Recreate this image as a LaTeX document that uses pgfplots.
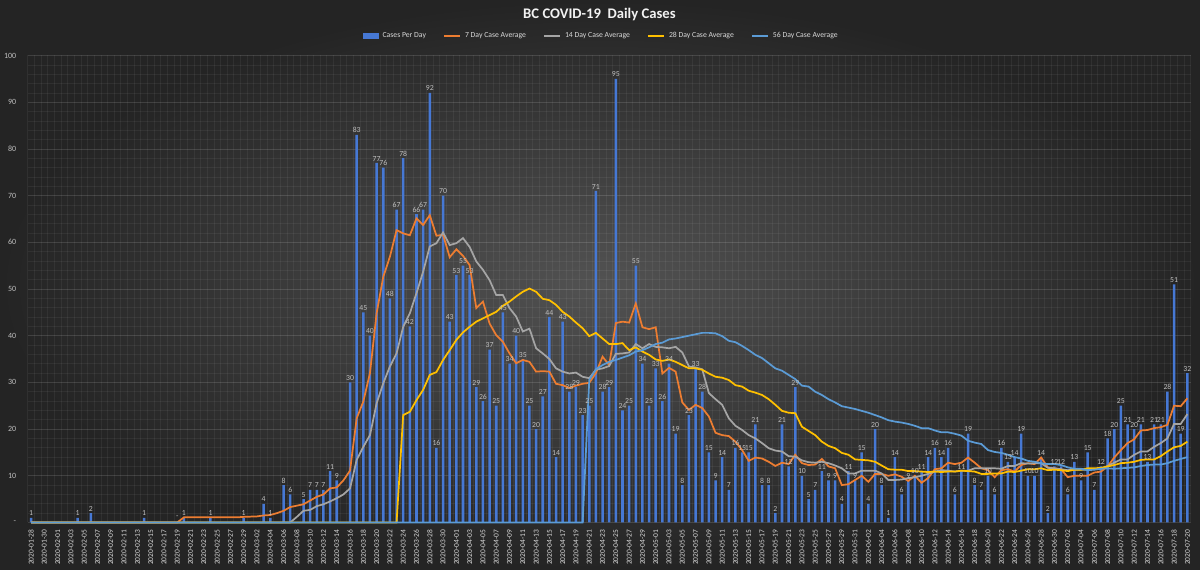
\documentclass[border=0pt]{standalone}
\usepackage{fontspec}
\setmainfont{Carlito}
\usepackage{pgfplots}
\pgfplotsset{compat=1.18}

\definecolor{bginner}{RGB}{82,82,82}
\definecolor{bgouter}{RGB}{36,36,36}
\definecolor{barblue}{RGB}{70,120,212}
\definecolor{avg7}{RGB}{237,125,49}
\definecolor{avg14}{RGB}{165,165,165}
\definecolor{avg28}{RGB}{255,192,0}
\definecolor{avg56}{RGB}{91,155,213}
\definecolor{labelgray}{RGB}{191,191,191}
\definecolor{textgray}{RGB}{217,217,217}

\begin{document}
\begin{tikzpicture}
\path[use as bounding box] (0,0) rectangle (900pt,426.75pt);
\shade[inner color=bginner, outer color=bgouter] (0,0) rectangle (900pt,426.75pt);

\begin{axis}[
    at={(20.8pt,34.9pt)}, anchor=south west,
    width=872.2pt, height=350.25pt, scale only axis,
    xmin=-0.5, xmax=174.5, ymin=0, ymax=100,
    clip=false,
    axis lines=left, axis line style={draw=none},
    tick style={draw=none},
    /pgf/number format/assume math mode=true,
    ytick={0,10,...,100},
    yticklabels={-,10,20,30,40,50,60,70,80,90,100},
    minor y tick num=4,
    yticklabel style={font=\fontsize{6}{7}\selectfont, text=labelgray, xshift=-3pt},
    xtick={0,2,...,174},
    minor xtick={-0.5,0.5,...,174.5},
    xticklabels={2020-01-28,2020-01-30,
      2020-02-01,2020-02-03,2020-02-05,2020-02-07,2020-02-09,2020-02-11,2020-02-13,2020-02-15,2020-02-17,2020-02-19,2020-02-21,2020-02-23,2020-02-25,2020-02-27,2020-02-29,
      2020-03-02,2020-03-04,2020-03-06,2020-03-08,2020-03-10,2020-03-12,2020-03-14,2020-03-16,2020-03-18,2020-03-20,2020-03-22,2020-03-24,2020-03-26,2020-03-28,2020-03-30,
      2020-04-01,2020-04-03,2020-04-05,2020-04-07,2020-04-09,2020-04-11,2020-04-13,2020-04-15,2020-04-17,2020-04-19,2020-04-21,2020-04-23,2020-04-25,2020-04-27,2020-04-29,
      2020-05-01,2020-05-03,2020-05-05,2020-05-07,2020-05-09,2020-05-11,2020-05-13,2020-05-15,2020-05-17,2020-05-19,2020-05-21,2020-05-23,2020-05-25,2020-05-27,2020-05-29,2020-05-31,
      2020-06-02,2020-06-04,2020-06-06,2020-06-08,2020-06-10,2020-06-12,2020-06-14,2020-06-16,2020-06-18,2020-06-20,2020-06-22,2020-06-24,2020-06-26,2020-06-28,2020-06-30,
      2020-07-02,2020-07-04,2020-07-06,2020-07-08,2020-07-10,2020-07-12,2020-07-14,2020-07-16,2020-07-18,2020-07-20},
    xticklabel style={rotate=90, anchor=east, font=\fontsize{5.6}{6.5}\selectfont, text=textgray},
    xmajorgrids=false, xminorgrids=true, ymajorgrids=true, yminorgrids=true,
    major grid style={white, opacity=0.13, line width=0.5pt},
    minor grid style={white, opacity=0.055, line width=0.45pt},
    legend columns=5,
    legend style={at={(0.4934,1)}, anchor=center, yshift=14.6pt,
      draw=none, fill=none, text=textgray,
      font=\fontsize{5.8}{6.5}\selectfont,
      /tikz/every even column/.append style={column sep=11pt},
      /tikz/every odd column/.append style={column sep=1pt}},
]

% daily cases (zero days left out)
\addplot[ybar, bar width=1.9pt, bar shift=0pt, fill=barblue, draw=none,
    nodes near coords,
    nodes near coords style={font=\fontsize{5.8}{6.5}\selectfont, text=labelgray, inner sep=1.2pt},
    legend image code/.code={\fill[barblue] (0pt,-2pt) rectangle (12pt,2pt);}]
coordinates {
  (0,1) (7,1) (9,2) (17,1) (23,1) (27,1) (32,1) (35,4) (36,1) (38,8)
  (39,6) (41,5) (42,7) (43,7) (44,7) (45,11) (46,9) (48,30) (49,83) (50,45)
  (51,40) (52,77) (53,76) (54,48) (55,67) (56,78) (57,42) (58,66) (59,67) (60,92)
  (61,16) (62,70) (63,43) (64,53) (65,55) (66,53) (67,29) (68,26) (69,37) (70,25)
  (71,45) (72,34) (73,40) (74,35) (75,25) (76,20) (77,27) (78,44) (79,14) (80,43)
  (81,28) (82,29) (83,23) (84,25) (85,71) (86,28) (87,29) (88,95) (89,24) (90,25)
  (91,55) (92,34) (93,25) (94,33) (95,26) (96,34) (97,19) (98,8) (99,23) (100,33)
  (101,28) (102,15) (103,9) (104,14) (105,7) (106,16) (107,15) (108,15) (109,21) (110,8)
  (111,8) (112,2) (113,21) (114,12) (115,29) (116,10) (117,5) (118,7) (119,11) (120,9)
  (121,9) (122,4) (123,11) (124,9) (125,15) (126,4) (127,20) (128,8) (129,1) (130,14)
  (131,6) (132,9) (133,10) (134,11) (135,14) (136,16) (137,14) (138,16) (139,6) (140,11)
  (141,19) (142,8) (143,7) (144,10) (145,6) (146,16) (147,13) (148,14) (149,19) (150,10)
  (151,10) (152,14) (153,2) (154,12) (155,12) (156,6) (157,13) (158,9) (159,15) (160,7)
  (161,12) (162,18) (163,20) (164,25) (165,21) (166,20) (167,21) (168,13) (169,21) (170,21)
  (171,28) (172,51) (173,19) (174,32)
};
\addlegendentry{Cases Per Day}

% 7 day average
\addplot[avg7, line width=1.3pt,
    legend image code/.code={\draw[avg7, line width=1.3pt] (0pt,0pt) -- (12pt,0pt);}]
coordinates {
  (0,0) (22,0) (23,1.1) (31,1.1) (32,1.2) (34,1.3) (35,1.5) (36,1.6) (37,2.0) (38,2.5)
  (39,3.3) (40,3.6) (41,3.9) (42,4.7) (43,5.5) (44,6.0) (45,7.3) (46,7.5) (47,9.0) (48,11.1)
  (49,22.3) (50,25.9) (51,32.0) (52,44.8) (53,52.6) (54,56.9) (55,62.6) (56,61.9) (57,61.5) (58,65.1)
  (59,63.7) (60,65.8) (61,61.4) (62,61.6) (63,56.8) (64,58.5) (65,57.1) (66,55.1) (67,45.9) (68,47.3)
  (69,42.6) (70,40.1) (71,38.7) (72,36.2) (73,34.1) (74,34.8) (75,34.4) (76,32.3) (77,32.4) (78,32.3)
  (79,29.7) (80,29.4) (81,28.8) (82,29.3) (83,29.7) (84,29.9) (85,32.0) (86,35.5) (87,33.7) (88,42.7)
  (89,43.0) (90,42.8) (91,46.9) (92,41.8) (93,41.4) (94,41.8) (95,31.9) (96,33.1) (97,32.3) (98,25.7)
  (99,24.1) (100,25.2) (101,24.5) (102,22.7) (103,19.2) (104,18.7) (105,18.5) (106,17.3) (107,15.5) (108,13.2)
  (109,13.9) (110,13.7) (111,13.0) (112,12.1) (113,12.8) (114,12.5) (115,14.5) (116,12.7) (117,12.3) (118,12.4)
  (119,13.6) (120,12.0) (121,11.6) (122,8.0) (123,8.2) (124,9.1) (125,10.0) (126,8.7) (127,10.4) (128,10.4)
  (129,10.0) (130,10.3) (131,9.8) (132,8.9) (133,10.0) (134,8.5) (135,9.5) (136,11.4) (137,11.6) (138,12.8)
  (139,12.5) (140,12.8) (141,13.9) (142,12.8) (143,11.6) (144,11.2) (145,9.7) (146,11.2) (147,11.4) (148,10.9)
  (149,12.3) (150,12.7) (151,12.5) (152,13.9) (153,11.8) (154,11.6) (155,11.4) (156,9.7) (157,10.0) (158,10.0)
  (159,10.0) (160,10.7) (161,10.9) (162,12.0) (163,13.9) (164,15.5) (165,17.0) (166,17.8) (167,19.7) (168,19.8)
  (169,20.2) (170,20.4) (171,20.9) (172,25.0) (173,24.9) (174,26.6)
};
\addlegendentry{7 Day Case Average}

% 14 day average
\addplot[avg14, line width=1.3pt,
    legend image code/.code={\draw[avg14, line width=1.3pt] (0pt,0pt) -- (12pt,0pt);}]
coordinates {
  (0,0) (39,0) (40,1.2) (41,2.5) (42,2.7) (43,3.5) (44,3.9) (45,4.5) (46,5.2) (47,6.0)
  (48,7.3) (49,13.4) (50,16.2) (51,18.7) (52,25.5) (53,29.8) (54,33.4) (55,36.2) (56,41.9) (57,44.8)
  (58,49.1) (59,53.7) (60,59.1) (61,59.8) (62,62.1) (63,59.4) (64,59.8) (65,60.9) (66,59.0) (67,55.9)
  (68,54.1) (69,51.9) (70,48.7) (71,48.7) (72,45.9) (73,44.1) (74,40.9) (75,41.5) (76,37.3) (77,36.2)
  (78,35.0) (79,33.0) (80,32.3) (81,31.9) (82,32.1) (83,31.2) (84,30.9) (85,32.7) (86,33.0) (87,33.5)
  (88,36.1) (89,36.2) (90,36.4) (91,38.2) (92,37.3) (93,38.2) (94,37.6) (95,37.5) (96,37.3) (97,37.6)
  (98,36.4) (99,33.4) (100,33.2) (101,32.8) (102,27.7) (103,26.4) (104,25.2) (105,22.3) (106,20.7) (107,19.8)
  (108,18.7) (109,18.0) (110,17.0) (111,15.9) (112,15.4) (113,15.2) (114,14.2) (115,14.1) (116,13.3) (117,12.9)
  (118,12.8) (119,13.0) (120,12.7) (121,12.2) (122,11.6) (123,10.5) (124,10.5) (125,11.1) (126,11.1) (127,11.1)
  (128,10.5) (129,9.1) (130,9.1) (131,9.2) (132,9.5) (133,9.7) (134,10.0) (135,10.4) (136,10.9) (137,11.2)
  (138,11.1) (139,10.9) (140,11.1) (141,11.1) (142,11.6) (143,11.6) (144,11.6) (145,11.6) (146,11.5) (147,12.1)
  (148,12.1) (149,12.7) (150,12.6) (151,12.7) (152,12.7) (153,11.7) (154,11.6) (155,11.4) (156,11.2) (157,11.3)
  (158,11.3) (159,11.3) (160,11.4) (161,11.5) (162,12.1) (163,12.8) (164,13.5) (165,13.5) (166,14.5) (167,15.2)
  (168,15.2) (169,16.2) (170,17.0) (171,18.0) (172,21.1) (173,21.1) (174,23.2)
};
\addlegendentry{14 Day Case Average}

% 28 day average
\addplot[avg28, line width=1.3pt,
    legend image code/.code={\draw[avg28, line width=1.3pt] (0pt,0pt) -- (12pt,0pt);}]
coordinates {
  (0,0) (55,0) (56,23.0) (57,23.7) (58,26.2) (59,28.4) (60,31.6) (61,32.2) (62,34.8) (63,36.9)
  (64,39.1) (65,40.7) (66,41.9) (67,43.0) (68,43.7) (69,44.4) (70,45.1) (71,46.4) (72,47.3) (73,48.4)
  (74,49.4) (75,50.1) (76,49.4) (77,47.9) (78,47.6) (79,46.6) (80,45.1) (81,44.1) (82,42.8) (83,41.6)
  (84,39.9) (85,40.6) (86,39.4) (87,38.2) (88,38.2) (89,38.4) (90,36.9) (91,37.5) (92,36.6) (93,35.9)
  (94,34.9) (95,34.6) (96,34.9) (97,34.4) (98,33.7) (99,33.0) (100,33.0) (101,32.7) (102,31.9) (103,31.2)
  (104,31.0) (105,30.5) (106,29.4) (107,29.1) (108,28.2) (109,27.8) (110,27.3) (111,26.4) (112,25.2) (113,23.9)
  (114,23.5) (115,23.4) (116,20.5) (117,19.6) (118,18.7) (119,17.3) (120,16.4) (121,15.9) (122,14.9) (123,14.5)
  (124,13.5) (125,13.4) (126,13.3) (127,13.0) (128,12.2) (129,11.4) (130,11.3) (131,11.3) (132,11.0) (133,11.0)
  (134,10.9) (135,10.8) (136,10.9) (137,10.8) (138,10.9) (139,10.9) (140,11.1) (141,11.0) (142,10.9) (143,10.4)
  (144,10.4) (145,10.5) (146,10.5) (147,10.9) (148,10.8) (149,11.1) (150,11.4) (151,11.4) (152,11.6) (153,11.2)
  (154,11.3) (155,11.2) (156,11.0) (157,11.3) (158,11.3) (159,11.6) (160,11.6) (161,11.7) (162,12.0) (163,12.3)
  (164,12.7) (165,12.8) (166,13.0) (167,13.4) (168,13.5) (169,13.5) (170,14.2) (171,15.2) (172,16.1) (173,16.4)
  (174,17.3)
};
\addlegendentry{28 Day Case Average}

% 56 day average
\addplot[avg56, line width=1.3pt,
    legend image code/.code={\draw[avg56, line width=1.3pt] (0pt,0pt) -- (12pt,0pt);}]
coordinates {
  (0,0) (83,0) (84,30.5) (85,32.8) (86,33.7) (87,34.4) (88,34.8) (89,35.3) (90,35.8) (91,36.6)
  (92,36.9) (93,37.5) (94,38.2) (95,38.5) (96,39.2) (97,39.4) (98,39.7) (99,40.0) (100,40.3) (101,40.6)
  (102,40.6) (103,40.5) (104,39.9) (105,38.9) (106,38.6) (107,37.8) (108,36.9) (109,35.9) (110,35.2) (111,34.1)
  (112,33.0) (113,32.5) (114,31.6) (115,30.7) (116,29.3) (117,29.1) (118,28.0) (119,27.3) (120,26.4) (121,25.7)
  (122,24.9) (123,24.6) (124,24.3) (125,23.9) (126,23.5) (127,23.0) (128,22.5) (129,21.9) (130,21.6) (131,21.4)
  (132,21.1) (133,20.7) (134,20.2) (135,20.2) (136,19.7) (137,19.3) (138,19.3) (139,19.0) (140,18.6) (141,17.5)
  (142,17.1) (143,16.8) (144,15.5) (145,15.1) (146,14.9) (147,14.5) (148,14.0) (149,13.7) (150,13.2) (151,13.0)
  (152,12.7) (153,12.5) (154,12.5) (155,12.3) (156,11.8) (157,11.5) (158,11.5) (159,11.2) (160,11.3) (161,11.5)
  (162,11.6) (163,11.5) (164,11.6) (165,11.7) (166,11.8) (167,12.1) (168,12.3) (169,12.4) (170,12.4) (171,12.7)
  (172,13.2) (173,13.6) (174,14.0)
};
\addlegendentry{56 Day Case Average}

% zero label shown as a dash
\addplot[draw=none, forget plot, nodes near coords={-},
    nodes near coords style={font=\fontsize{5.8}{6.5}\selectfont, text=labelgray, inner sep=3pt}]
coordinates {(22,0)};

\end{axis}

\node[text=black!85, font=\fontsize{11}{13}\selectfont\bfseries] at (450.3pt,414.9pt) {BC COVID-19\ \ Daily Cases};
\node[text=white!95!black, font=\fontsize{11}{13}\selectfont\bfseries] at (449.6pt,415.5pt) {BC COVID-19\ \ Daily Cases};
\end{tikzpicture}
\end{document}
